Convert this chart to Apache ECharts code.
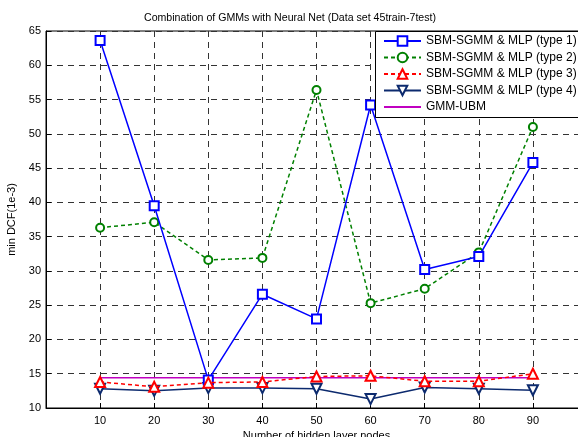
<!DOCTYPE html>
<html>
<head>
<meta charset="utf-8">
<script src="https://cdn.jsdelivr.net/npm/echarts@6/dist/echarts.min.js"></script>
<style>
html,body{margin:0;padding:0;background:#fff;}
#c{width:578px;height:437px;}
</style>
</head>
<body>
<div id="c"></div>
<script>
const nodes = [10, 20, 30, 40, 50, 60, 70, 80, 90];
const type1 = [63.6, 39.5, 14.1, 26.6, 23.0, 54.2, 30.2, 32.1, 45.8];
const type2 = [36.3, 37.1, 31.6, 31.9, 56.4, 25.3, 27.4, 32.7, 51.0];
const type3 = [13.8, 13.1, 13.7, 13.8, 14.6, 14.7, 13.9, 13.9, 15.0];
const type4 = [12.8, 12.5, 12.9, 12.9, 12.8, 11.3, 13.0, 12.8, 12.6];
const gmmUbm = [14.4, 14.4, 14.4, 14.4, 14.4, 14.4, 14.4, 14.4, 14.4];
const names = ['SBM-SGMM & MLP (type 1)', 'SBM-SGMM & MLP (type 2)', 'SBM-SGMM & MLP (type 3)', 'SBM-SGMM & MLP (type 4)', 'GMM-UBM'];

const pairs = arr => nodes.map((x, i) => [x, arr[i]]);
const font = 'Liberation Sans, Arial, Helvetica, sans-serif';

const chart = echarts.init(document.getElementById('c'), null, {renderer: 'canvas'});
const gridLine = {show: true, lineStyle: {color: '#333', type: [6, 5], width: 1}};

chart.setOption({
  animation: false,
  backgroundColor: '#fff',
  title: {
    text: 'Combination of GMMs with Neural Net (Data set 45train-7test)',
    left: 285, top: 8, textAlign: 'center',
    textStyle: {fontFamily: font, fontSize: 10.6, fontWeight: 'normal', color: '#000'}
  },
  grid: {left: 46, top: 31, width: 541, height: 377, show: true, borderColor: '#000', borderWidth: 1,
         backgroundColor: '#fff', outerBoundsMode: 'none', containLabel: false},
  graphic: [{
    type: 'rect', left: 375, top: 31, z: 90,
    shape: {width: 230, height: 86},
    style: {fill: '#fff', stroke: '#000', lineWidth: 1}
  }],
  xAxis: {
    type: 'value', min: 0, max: 100, interval: 10,
    name: 'Number of hidden layer nodes', nameLocation: 'middle', nameGap: 18,
    nameTextStyle: {fontFamily: font, fontSize: 11, color: '#000'},
    axisLine: {show: true, lineStyle: {color: '#000', width: 1}},
    axisTick: {show: true, inside: true, length: 5, lineStyle: {color: '#000'}},
    axisLabel: {fontFamily: font, fontSize: 11, color: '#000', margin: 7,
      formatter: v => (v > 0 && v < 100) ? String(v) : ''},
    splitLine: gridLine
  },
  yAxis: {
    type: 'value', min: 10, max: 65, interval: 5,
    name: 'min DCF(1e-3)', nameLocation: 'middle', nameGap: 27, nameRotate: 90,
    nameTextStyle: {fontFamily: font, fontSize: 11, color: '#000'},
    axisLine: {show: true, lineStyle: {color: '#000', width: 1}},
    axisTick: {show: true, inside: true, length: 5, lineStyle: {color: '#000'}},
    axisLabel: {fontFamily: font, fontSize: 11, color: '#000', margin: 5},
    splitLine: gridLine
  },
  legend: {
    orient: 'vertical', left: 375, top: 31, z: 100,
    padding: [4, 4, 5, 8], itemGap: 4.5, itemWidth: 37, itemHeight: 12,
    backgroundColor: 'transparent', borderWidth: 0,
    textStyle: {fontFamily: font, fontSize: 12, color: '#000'},
    data: [names[0], names[1], names[2], names[3], {name: names[4], itemStyle: {opacity: 0}}]
  },
  series: [
    {name: names[0], type: 'line', data: pairs(type1), symbol: 'emptyRect', symbolSize: 9,
     lineStyle: {color: '#0000ff', width: 1.5}, itemStyle: {color: '#0000ff', borderWidth: 1.3}, z: 5},
    {name: names[1], type: 'line', data: pairs(type2), symbol: 'emptyCircle', symbolSize: 8,
     lineStyle: {color: '#008000', width: 1.5, type: [4, 3]}, itemStyle: {color: '#008000', borderWidth: 1.3}, z: 4},
    {name: names[2], type: 'line', data: pairs(type3), symbol: 'emptyTriangle', symbolSize: 10,
     lineStyle: {color: '#ff0000', width: 1.5, type: [4, 3]}, itemStyle: {color: '#ff0000', borderWidth: 1.3}, z: 6},
    {name: names[3], type: 'line', data: pairs(type4), symbol: 'emptyTriangle', symbolRotate: 180, symbolSize: 10,
     lineStyle: {color: '#0c2a6e', width: 1.5}, itemStyle: {color: '#0c2a6e', borderWidth: 1.3}, z: 3},
    {name: names[4], type: 'line', data: pairs(gmmUbm), symbol: 'none',
     lineStyle: {color: '#c000c0', width: 1.5}, itemStyle: {color: '#c000c0'}, z: 2}
  ]
});
</script>
</body>
</html>
